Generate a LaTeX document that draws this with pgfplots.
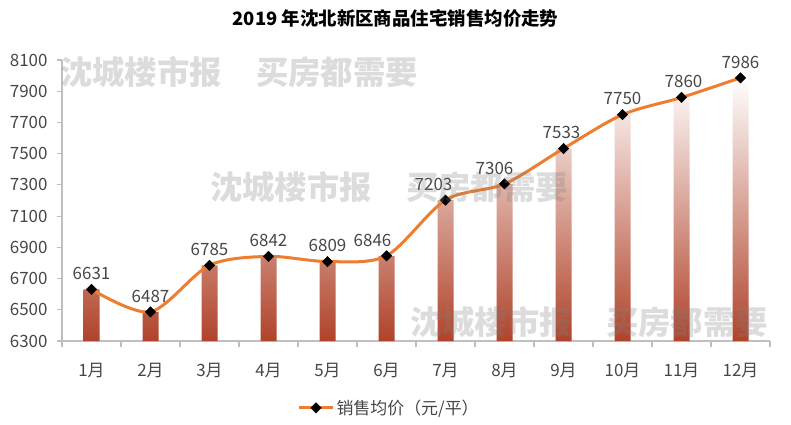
\documentclass[border=0pt]{standalone}
\usepackage{fontspec}
\setmainfont{Noto Sans CJK SC}
\usepackage{pgfplots}
\pgfplotsset{compat=1.18}
\usepackage{pgfplotstable}
\definecolor{lineorange}{HTML}{ED7D31}
\definecolor{barred}{HTML}{B0432A}
\definecolor{txt}{HTML}{474747}
\definecolor{axgray}{HTML}{BFBFBF}
\pgfplotstableread{
x y dx
1 6631 0
2 6487 0
3 6785 0
4 6842 0
5 6809 0
6 6846 -14
7 7203 -12
8 7306 -10
9 7533 -2
10 7750 0
11 7860 2
12 7986 0
}\data
\begin{document}
\begin{tikzpicture}[x=1bp,y=1bp]
\useasboundingbox (0,0) rectangle (791,424);
\node[font=\bfseries\fontsize{18.5}{20}\selectfont] at (395.5,406) {2019 年沈北新区商品住宅销售均价走势};
\begin{axis}[
  at={(62bp,83bp)}, anchor=south west,
  scale only axis, width=708bp, height=281bp,
  xmin=0.5, xmax=12.5, ymin=6300, ymax=8100,
  y coord trafo/.code={\pgfmathparse{#1-6300}},
  y coord inv trafo/.code={\pgfmathparse{#1+6300}},
  ytick={6300,6500,6700,6900,7100,7300,7500,7700,7900,8100},
  yticklabels={6300,6500,6700,6900,7100,7300,7500,7700,7900,8100},
  xtick={1,2,3,4,5,6,7,8,9,10,11,12},
  xticklabels={1月,2月,3月,4月,5月,6月,7月,8月,9月,10月,11月,12月},
  minor xtick={0.5,1.5,2.5,3.5,4.5,5.5,6.5,7.5,8.5,9.5,10.5,11.5,12.5},
  axis lines*=left,
  axis line style={axgray, line width=1.5bp},
  tick align=outside,
  x tick style={draw=none},
  minor x tick style={axgray, line width=1.2bp, draw=axgray},
  minor tick length=6bp,
  y tick style={axgray, line width=1.2bp},
  major tick length=5bp,
  ticklabel style={font=\fontsize{17}{18}\selectfont, text=txt},
  xticklabel style={yshift=-14bp},
  yticklabel style={xshift=-6bp},
  legend style={at={(axis description cs:0.462,-0.238)}, anchor=center, draw=none,
    font=\fontsize{17}{18}\selectfont, text=txt, legend columns=-1},
  legend image code/.code={\draw[#1, mark repeat=2, mark phase=2] plot coordinates {(0bp,0bp) (17bp,0bp) (34bp,0bp)};},
  clip=false,
]
\addplot[ybar, bar width=16bp, draw=none, top color=white, bottom color=barred, forget plot] table[x=x,y=y]{\data};
\addplot[lineorange, line width=3bp, smooth, mark=square*, mark size=3.7bp,
  mark options={black, fill=black, rotate=45, line width=0.4bp},
  nodes near coords, point meta=explicit symbolic,
  visualization depends on={\thisrow{dx}\as\dx},
  every node near coord/.append style={font=\fontsize{17}{18}\selectfont, text=txt, anchor=south, yshift=6bp, xshift=\dx bp}]
  table[x=x,y=y,meta=y]{\data};
\addlegendentry{销售均价（元/平）}
\end{axis}
\begin{scope}[every node/.style={anchor=west, inner sep=0pt, text=gray, opacity=0.28, font=\bfseries\fontsize{32.5}{34}\selectfont}]
\node at (60,352) {沈城楼市报\hspace{34bp}买房都需要};
\node at (210,237) {沈城楼市报\hspace{34bp}买房都需要};
\node at (410,102) {沈城楼市报\hspace{34bp}买房都需要};
\end{scope}
\end{tikzpicture}
\end{document}
